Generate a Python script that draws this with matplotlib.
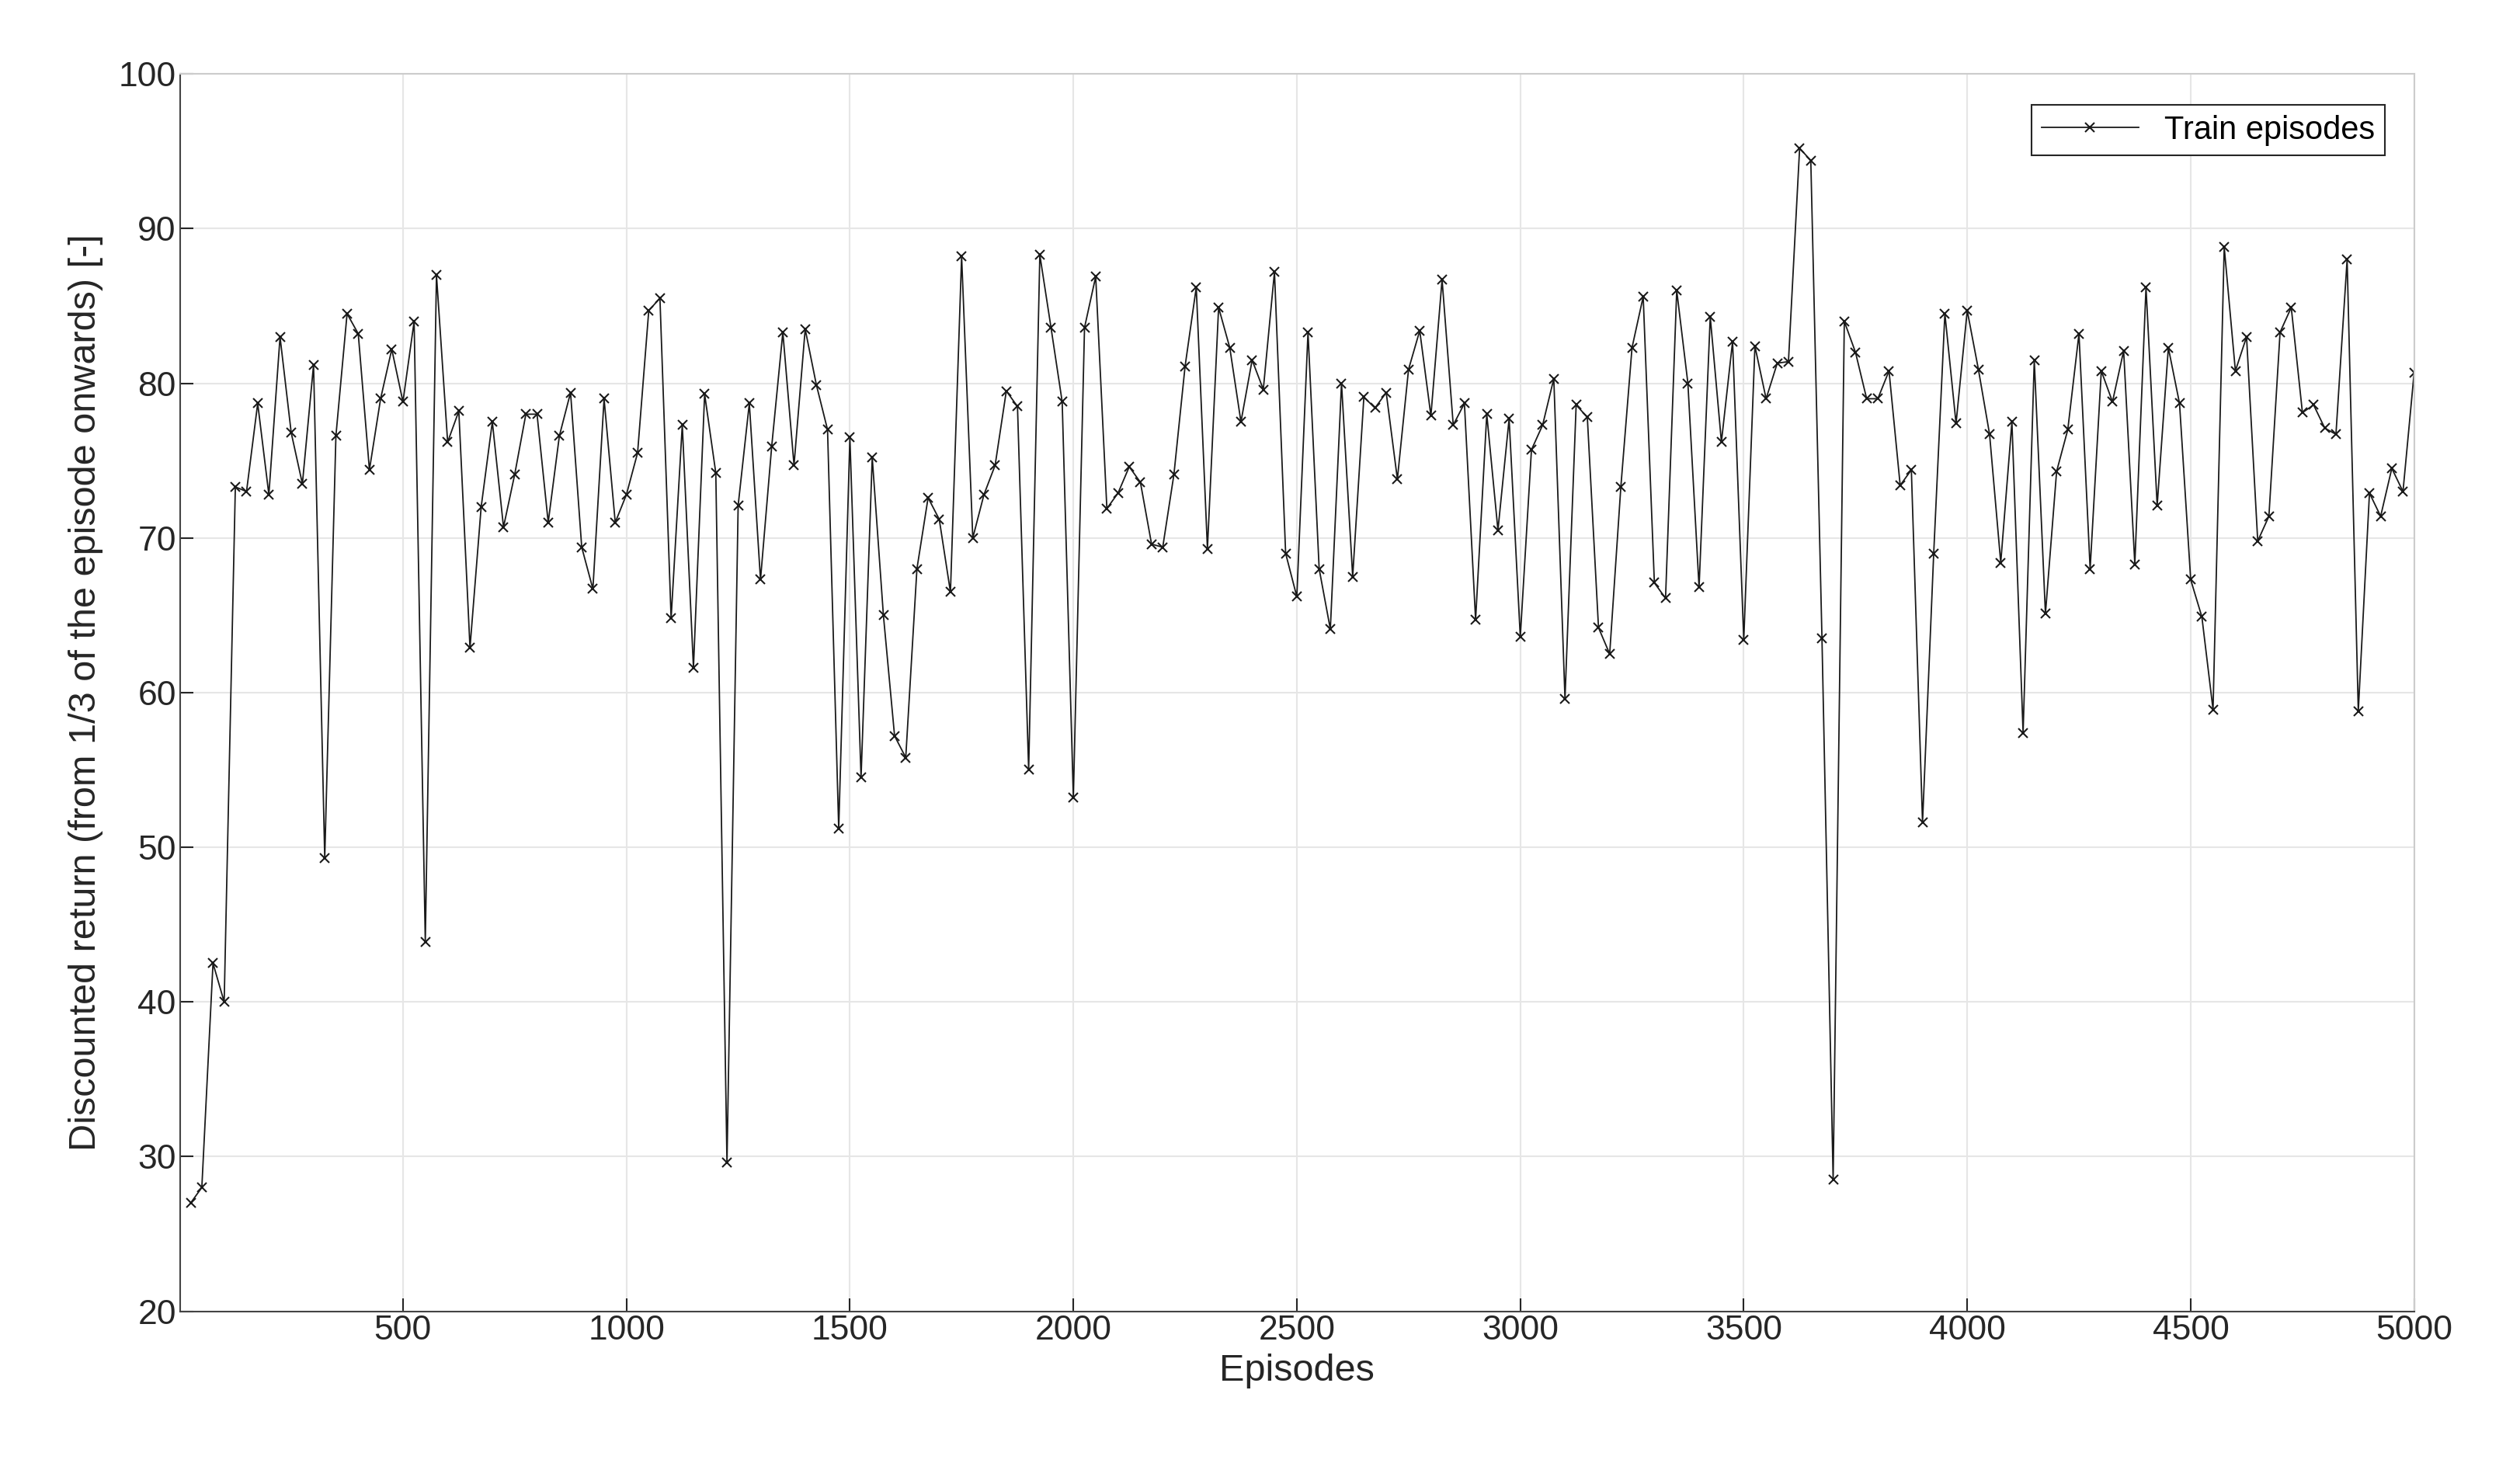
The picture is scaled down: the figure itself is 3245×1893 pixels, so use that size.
import numpy as np
import matplotlib
matplotlib.use("Agg")
import matplotlib.pyplot as plt

episodes = np.arange(25, 5001, 25)
returns = [
27, 28, 42.5, 40, 73.3, 73, 78.7, 72.8, 83, 76.8, 73.5, 81.2, 49.3, 76.6, 84.5, 83.2, 74.4, 79, 82.2, 78.8,
84, 43.9, 87, 76.2, 78.2, 62.9, 72, 77.5, 70.7, 74.1, 78, 78, 71, 76.6, 79.4, 69.4, 66.7, 79, 71, 72.8,
75.5, 84.7, 85.5, 64.8, 77.3, 61.6, 79.3, 74.2, 29.6, 72.1, 78.7, 67.3, 75.9, 83.3, 74.7, 83.5, 79.9, 77, 51.2, 76.5,
54.5, 75.2, 65, 57.2, 55.8, 68, 72.6, 71.2, 66.5, 88.2, 70, 72.8, 74.7, 79.5, 78.5, 55, 88.3, 83.6, 78.8, 53.2,
83.6, 86.9, 71.9, 72.9, 74.6, 73.6, 69.6, 69.4, 74.1, 81.1, 86.2, 69.3, 84.9, 82.3, 77.5, 81.5, 79.6, 87.2, 69, 66.2,
83.3, 68, 64.1, 80, 67.5, 79.1, 78.4, 79.4, 73.8, 80.9, 83.4, 77.9, 86.7, 77.3, 78.7, 64.7, 78, 70.5, 77.7, 63.6,
75.7, 77.3, 80.3, 59.6, 78.6, 77.8, 64.2, 62.5, 73.3, 82.3, 85.6, 67.1, 66.1, 86, 80, 66.8, 84.3, 76.2, 82.7, 63.4,
82.4, 79, 81.3, 81.4, 95.2, 94.4, 63.5, 28.5, 84, 82, 79, 79, 80.8, 73.4, 74.4, 51.6, 69, 84.5, 77.4, 84.7,
80.9, 76.7, 68.4, 77.5, 57.4, 81.5, 65.1, 74.3, 77, 83.2, 68, 80.8, 78.8, 82.1, 68.3, 86.2, 72.1, 82.3, 78.7, 67.3,
64.9, 58.9, 88.8, 80.8, 83, 69.8, 71.4, 83.3, 84.9, 78.1, 78.6, 77.1, 76.7, 88, 58.8, 72.9, 71.4, 74.5, 73, 80.7,
]
xticks = [500, 1000, 1500, 2000, 2500, 3000, 3500, 4000, 4500, 5000]
yticks = [20, 30, 40, 50, 60, 70, 80, 90, 100]

plt.rcParams['font.family'] = ['Liberation Sans', 'DejaVu Sans']
fig = plt.figure(figsize=(32.45, 18.93), dpi=100)
ax = fig.add_axes([0.0714, 0.108, 0.8866, 0.8417])
ax.plot(episodes, returns, color='#1a1a1a', lw=1.3, marker='x', ms=9, mew=1.5,
        label='Train episodes')
ax.set_xlim(1, 5000)
ax.set_ylim(20, 100)
ax.set_xticks(xticks)
ax.set_yticks(yticks)
ax.grid(True, color='#e6e6e6', lw=1.5)
ax.set_axisbelow(True)
for s in ax.spines.values():
    s.set_color('#cccccc')
    s.set_linewidth(1.5)
ax.spines['left'].set_color('#444444')
ax.spines['bottom'].set_color('#444444')
ax.tick_params(labelsize=32, colors='#262626', direction='in', length=12, width=1.5)
ax.set_xlabel('Episodes', fontsize=35, color='#262626', labelpad=6)
ax.set_ylabel('Discounted return (from 1/3 of the episode onwards) [-]', fontsize=35,
              color='#262626', labelpad=14)
leg = ax.legend(loc='upper right', fontsize=30, fancybox=False, framealpha=1,
                edgecolor='#262626', handlelength=3, borderpad=0.3,
                bbox_to_anchor=(0.994, 0.988))
leg.get_frame().set_linewidth(1.5)
fig.savefig('out.png', dpi=100, facecolor='white')
